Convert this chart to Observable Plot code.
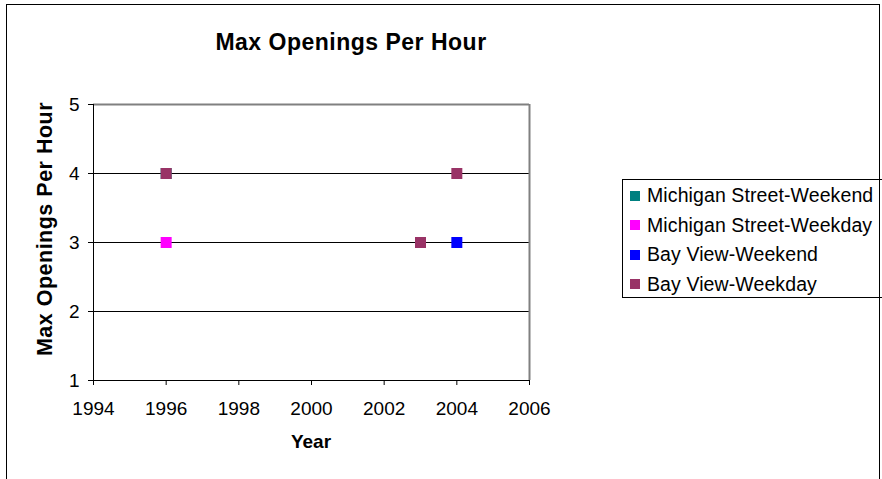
<!DOCTYPE html>
<html>
<head>
<meta charset="utf-8">
<script src="https://cdn.jsdelivr.net/npm/d3@7"></script>
<script src="https://cdn.jsdelivr.net/npm/@observablehq/plot@0.6"></script>
<style>
html, body { margin: 0; padding: 0; background: #fff; }
#wrap { position: relative; width: 882px; height: 479px; overflow: hidden; font-family: "Liberation Sans", Arial, sans-serif; color: #000; }
#plot { position: absolute; left: 0; top: 0; }
#border { position: absolute; left: 6px; top: 4px; width: 874px; height: 520px; border: 1px solid #000; box-sizing: border-box; pointer-events: none; }
#title { position: absolute; left: 0; width: 702px; top: 30px; text-align: center; font-weight: bold; font-size: 23px; line-height: 24px; letter-spacing: 0.5px; white-space: nowrap; }
#xtitle { position: absolute; left: 0; width: 622px; top: 431px; text-align: center; font-weight: bold; font-size: 19px; line-height: 22px; white-space: nowrap; }
#ytitle { position: absolute; left: 45px; top: 229px; width: 0; height: 0; }
#ytitle span { position: absolute; left: 0; top: 0; transform: translate(-50%, -50%) rotate(-90deg); font-weight: bold; font-size: 21.5px; line-height: 22px; letter-spacing: 0.5px; white-space: nowrap; }
#legend { position: absolute; left: 622px; top: 179px; width: 300px; height: 119px; border: 1px solid #000; box-sizing: border-box; }
.row { position: absolute; left: 0; height: 29.5px; display: flex; align-items: center; font-size: 19.5px; letter-spacing: 0.1px; white-space: nowrap; }
.sw { width: 10px; height: 10px; margin-left: 7px; margin-right: 7px; flex: none; }
</style>
</head>
<body>
<div id="wrap">
  <div id="plot"></div>
  <div id="border"></div>
  <div id="title"></div>
  <div id="xtitle"></div>
  <div id="ytitle"><span></span></div>
  <div id="legend"></div>
</div>
<script>
// ---- data ----
const chartTitle = "Max Openings Per Hour";
const xTitle = "Year";
const yTitle = "Max Openings Per Hour";
const xTicks = [1994, 1996, 1998, 2000, 2002, 2004, 2006];
const yTicks = [1, 2, 3, 4, 5];
const seriesNames = ["Michigan Street-Weekend", "Michigan Street-Weekday", "Bay View-Weekend", "Bay View-Weekday"];
const seriesColors = ["#008080", "#FF00FF", "#0000FF", "#993366"];
const michiganWeekendYears = [1996];
const michiganWeekendValues = [4];
const michiganWeekdayYears = [1996];
const michiganWeekdayValues = [3];
const bayViewWeekendYears = [2004];
const bayViewWeekendValues = [3];
const bayViewWeekdayYears = [1996, 2003, 2004];
const bayViewWeekdayValues = [4, 3, 4];

const seriesYears = [michiganWeekendYears, michiganWeekdayYears, bayViewWeekendYears, bayViewWeekdayYears];
const seriesValues = [michiganWeekendValues, michiganWeekdayValues, bayViewWeekendValues, bayViewWeekdayValues];
const rows = [];
seriesNames.forEach((name, i) => {
  seriesYears[i].forEach((yr, j) => rows.push({series: name, year: yr, value: seriesValues[i][j]}));
});

const chart = Plot.plot({
  width: 882,
  height: 479,
  marginTop: 104,
  marginLeft: 93,
  marginRight: 353,
  marginBottom: 99,
  style: {fontFamily: "'Liberation Sans', Arial, sans-serif", fontSize: "19px", color: "#000", background: "transparent", overflow: "visible"},
  x: {domain: [xTicks[0], xTicks[xTicks.length - 1]]},
  y: {domain: [yTicks[0], yTicks[yTicks.length - 1]]},
  color: {type: "ordinal", domain: seriesNames, range: seriesColors},
  marks: [
    Plot.ruleY(yTicks.slice(1, -1), {stroke: "#000", strokeWidth: 1}),
    Plot.ruleY([yTicks[yTicks.length - 1]], {stroke: "#808080", strokeWidth: 2}),
    Plot.ruleX([xTicks[xTicks.length - 1]], {stroke: "#808080", strokeWidth: 2}),
    Plot.ruleX([xTicks[0]], {stroke: "#000", strokeWidth: 1}),
    Plot.ruleY([yTicks[0]], {stroke: "#000", strokeWidth: 1}),
    Plot.axisX({ticks: xTicks, tickFormat: "d", label: null, tickSize: 5, tickPadding: 16, fontSize: 19}),
    Plot.axisY({ticks: yTicks, tickFormat: "d", label: null, tickSize: 5, tickPadding: 9, fontSize: 19}),
    Plot.dot(rows, {x: "year", y: "value", fill: "series", symbol: "square", r: 6.2})
  ]
});
document.getElementById("plot").appendChild(chart);

document.getElementById("title").textContent = chartTitle;
document.getElementById("xtitle").textContent = xTitle;
document.querySelector("#ytitle span").textContent = yTitle;

const legend = document.getElementById("legend");
seriesNames.forEach((name, i) => {
  const row = document.createElement("div");
  row.className = "row";
  row.style.top = (1 + i * 29.5) + "px";
  const sw = document.createElement("div");
  sw.className = "sw";
  sw.style.background = seriesColors[i];
  const tx = document.createElement("span");
  tx.textContent = name;
  row.appendChild(sw);
  row.appendChild(tx);
  legend.appendChild(row);
});
</script>
</body>
</html>
